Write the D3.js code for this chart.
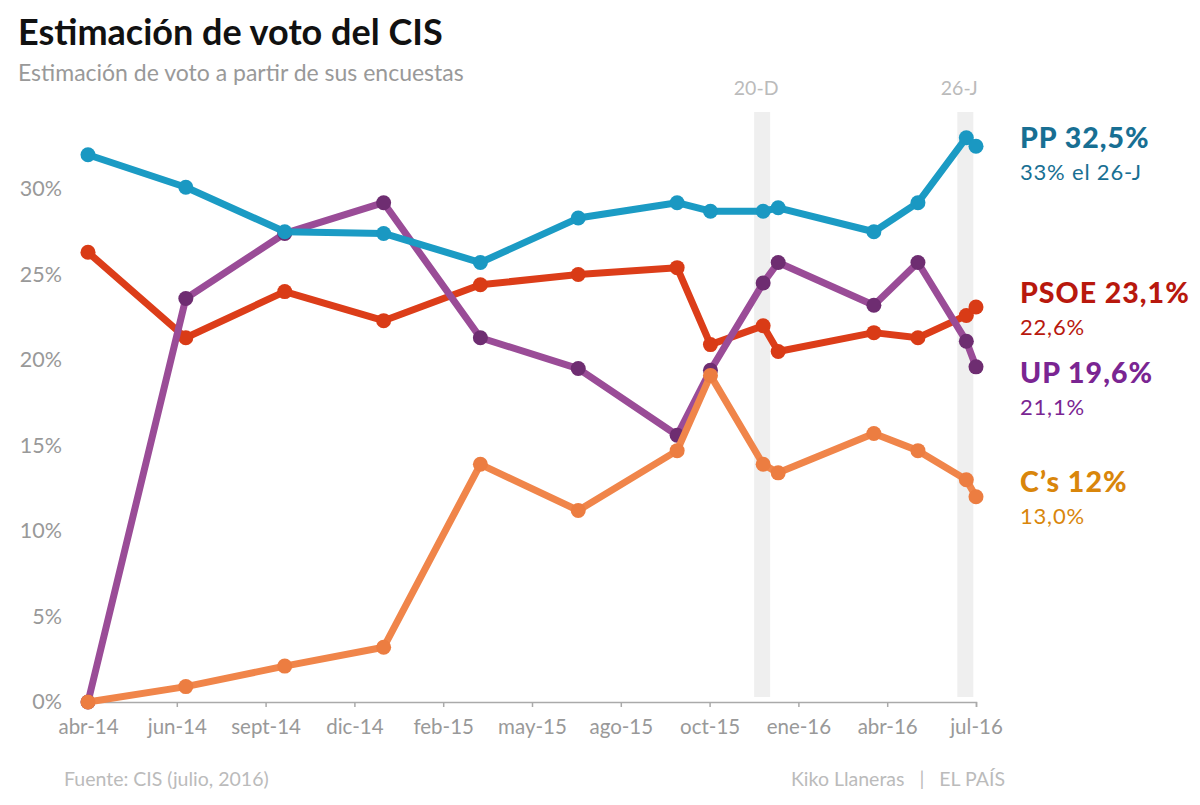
<!DOCTYPE html>
<html>
<head>
<meta charset="utf-8">
<script src="https://cdn.jsdelivr.net/npm/d3@7/dist/d3.min.js"></script>
<style>
  html, body { margin: 0; padding: 0; background: #fff; }
  svg { display: block; font-family: Lato, "Open Sans", sans-serif; }
</style>
</head>
<body>
<svg id="chart" width="1200" height="805"></svg>
<script>
// ---- Data ----
const dates = ["2014-04-01","2014-07-01","2014-10-01","2015-01-01","2015-04-01","2015-07-01",
               "2015-10-01","2015-11-01","2015-12-20","2016-01-03","2016-04-01","2016-05-12",
               "2016-06-26","2016-07-05"];
const ppValues   = [32.0, 30.1, 27.5, 27.4, 25.7, 28.3, 29.2, 28.7, 28.7, 28.9, 27.5, 29.2, 33.0, 32.5];
const psoeValues = [26.3, 21.3, 24.0, 22.3, 24.4, 25.0, 25.4, 20.9, 22.0, 20.5, 21.6, 21.3, 22.6, 23.1];
const upValues   = [0.0, 23.6, 27.4, 29.2, 21.3, 19.5, 15.6, 19.4, 24.5, 25.7, 23.2, 25.7, 21.1, 19.6];
const csValues   = [0.0, 0.9, 2.1, 3.2, 13.9, 11.2, 14.7, 19.1, 13.9, 13.4, 15.7, 14.7, 13.0, 12.0];

const seriesNames = ["PSOE", "UP", "C's", "PP"];
const xTickLabels = ["abr-14","jun-14","sept-14","dic-14","feb-15","may-15","ago-15","oct-15","ene-16","abr-16","jul-16"];
const yTickValues = [0, 5, 10, 15, 20, 25, 30];
const electionDates = ["2015-12-20", "2016-06-26"];
const electionLabels = ["20-D", "26-J"];

const endLabels = ["PP 32,5%", "PSOE 23,1%", "UP 19,6%", "C\u2019s 12%"];
const endSubLabels = ["33% el 26-J", "22,6%", "21,1%", "13,0%"];

// ---- Styles ----
const lineColors = { "PP": "#1b9bc4", "PSOE": "#dc3d19", "UP": "#9a4c97", "C's": "#f0854a" };
const dotColors  = { "PP": "#1a98c2", "PSOE": "#d93b16", "UP": "#6e2d71", "C's": "#ec7d41" };
const textColors = ["#186f93", "#b8180d", "#7a2592", "#d9860b"];

const seriesValues = { "PP": ppValues, "PSOE": psoeValues, "UP": upValues, "C's": csValues };

const parse = d3.timeParse("%Y-%m-%d");
const dateObjs = dates.map(parse);

const svg = d3.select("#chart");

const x = d3.scaleTime()
  .domain([dateObjs[0], dateObjs[dateObjs.length - 1]])
  .range([88, 976]);
const y = d3.scaleLinear().domain([0, 30]).range([702, 189]);

// Title & subtitle
svg.append("text").attr("x", 18).attr("y", 45)
  .attr("font-size", 36).attr("font-weight", 700).attr("fill", "#111")
  .text("Estimación de voto del CIS");
svg.append("text").attr("x", 18).attr("y", 81)
  .attr("font-size", 23).attr("fill", "#999")
  .text("Estimación de voto a partir de sus encuestas");

// Election bands
electionDates.forEach((d, i) => {
  const cx = x(parse(d));
  svg.append("rect")
    .attr("x", cx - 9).attr("y", 112)
    .attr("width", 16).attr("height", 697 - 112)
    .attr("fill", "#efefef");
  svg.append("text")
    .attr("x", cx - 7).attr("y", 95)
    .attr("text-anchor", "middle")
    .attr("font-size", 19.5).attr("fill", "#bbb")
    .text(electionLabels[i]);
});

// X axis
const xp = d3.scalePoint().domain(xTickLabels).range(x.range());
const xAxis = d3.axisBottom(xp).tickSize(5).tickPadding(12);
const gx = svg.append("g").attr("transform", `translate(0,${y(0)})`).call(xAxis);
gx.select(".domain").attr("stroke", "#aaa").attr("stroke-width", 1.5);
gx.selectAll(".tick line").attr("stroke", "#aaa").attr("stroke-width", 1.5);
gx.selectAll(".tick text").attr("font-size", 20.5).attr("fill", "#999")
  .attr("font-family", "Lato, sans-serif");

// Y labels
const yAxis = d3.axisLeft(y).tickValues(yTickValues).tickSize(0).tickPadding(0)
  .tickFormat(d => d + "%");
const gy = svg.append("g").attr("transform", "translate(62,0)").call(yAxis);
gy.select(".domain").remove();
gy.selectAll(".tick text").attr("font-size", 21.5).attr("fill", "#999")
  .attr("font-family", "Lato, sans-serif");

// Lines and dots
const line = d3.line().x((d, i) => x(dateObjs[i])).y(d => y(d));

seriesNames.forEach(name => {
  const vals = seriesValues[name];
  const g = svg.append("g");
  g.append("path")
    .attr("d", line(vals))
    .attr("fill", "none")
    .attr("stroke", lineColors[name])
    .attr("stroke-width", 7)
    .attr("stroke-linejoin", "round");
  g.selectAll("circle").data(vals).join("circle")
    .attr("cx", (d, i) => x(dateObjs[i]))
    .attr("cy", d => y(d))
    .attr("r", 7.5)
    .attr("fill", dotColors[name]);
});

// End labels
const labelYs = [148, 303, 383, 492];
endLabels.forEach((t, i) => {
  svg.append("text").attr("x", 1020).attr("y", labelYs[i])
    .attr("font-size", 28.5).attr("font-weight", 900).attr("fill", textColors[i])
    .attr("letter-spacing", 1)
    .text(t);
  svg.append("text").attr("x", 1020).attr("y", labelYs[i] + 32)
    .attr("font-size", 22).attr("fill", textColors[i])
    .attr("letter-spacing", 0.8)
    .text(endSubLabels[i]);
});

// Footer
svg.append("text").attr("x", 64).attr("y", 786)
  .attr("font-size", 19.5).attr("fill", "#bbb")
  .text("Fuente: CIS (julio, 2016)");
svg.append("text").attr("x", 1005).attr("y", 786)
  .attr("text-anchor", "end")
  .attr("font-size", 19.5).attr("fill", "#bbb")
  .attr("xml:space", "preserve")
  .text("Kiko Llaneras   |   EL PAÍS");
</script>
</body>
</html>
